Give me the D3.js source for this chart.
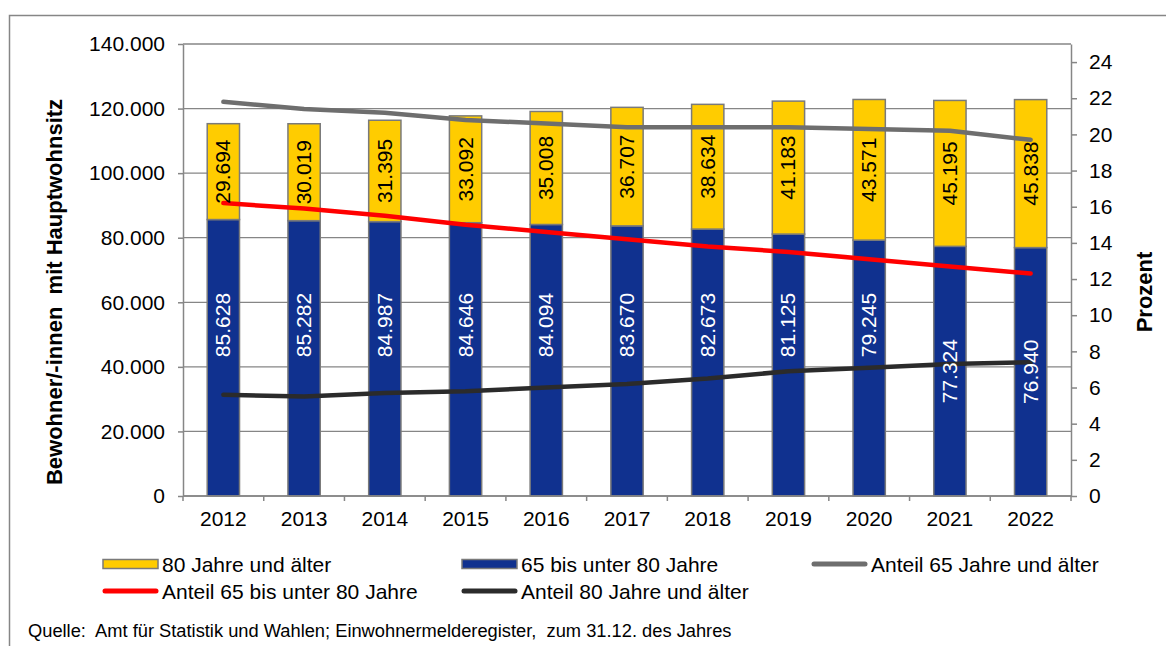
<!DOCTYPE html>
<html>
<head>
<meta charset="utf-8">
<script src="https://cdn.jsdelivr.net/npm/d3@7"></script>
<style>
  body { margin: 0; background: #fff; }
  svg { font-family: "Liberation Sans", Arial, sans-serif; }
  .grid line { stroke: #868686; stroke-width: 1.3; }
  .axis path, .axis line { stroke: #868686; stroke-width: 1.5; }
  .axis text { fill: #000; font-size: 21px; }
</style>
</head>
<body>
<div id="vis"></div>
<script>
const years = ["2012", "2013", "2014", "2015", "2016", "2017", "2018", "2019", "2020", "2021", "2022"];
const age65to79 = [85628, 85282, 84987, 84646, 84094, 83670, 82673, 81125, 79245, 77324, 76940];
const age80plus = [29694, 30019, 31395, 33092, 35008, 36707, 38634, 41183, 43571, 45195, 45838];
const share65plus = [21.8, 21.4, 21.2, 20.8, 20.6, 20.4, 20.4, 20.4, 20.3, 20.2, 19.7];
const share65to79 = [16.2, 15.9, 15.5, 15.0, 14.6, 14.2, 13.8, 13.5, 13.1, 12.7, 12.3];
const share80plus = [5.6, 5.5, 5.7, 5.8, 6.0, 6.2, 6.5, 6.9, 7.1, 7.3, 7.4];
const leftTicks = [0, 20000, 40000, 60000, 80000, 100000, 120000, 140000];
const rightTicks = [0, 2, 4, 6, 8, 10, 12, 14, 16, 18, 20, 22, 24];

const ctx = {
    w: 1166,
    h: 646,
    left: 183,
    right: 1071,
    top: 44,
    bottom: 496,
    yellow: "#FFCC00",
    navy: "#10318F",
    gray: "#6E6E6E",
    red: "#FF0000",
    dark: "#2B2B2B"
};

const fmt = d3.formatLocale({decimal: ",", thousands: ".", grouping: [3]}).format(",");

function createViz() {
    let svg = d3.select("#vis").append("svg")
        .attr("width", ctx.w)
        .attr("height", ctx.h);

    // outer frame
    svg.append("rect")
        .attr("x", 9.5).attr("y", 15.5)
        .attr("width", 1165).attr("height", 640)
        .style("fill", "none")
        .style("stroke", "#868686")
        .style("stroke-width", 1.5);

    let data = years.map((y, i) => ({
        year: y, a: age65to79[i], b: age80plus[i],
        s: share65plus[i], r: share65to79[i], k: share80plus[i]
    }));

    let xBand = d3.scaleBand().domain(years).range([ctx.left, ctx.right]);
    let xBar = d3.scaleBand().domain(years).range([ctx.left, ctx.right])
                 .paddingInner(0.6).paddingOuter(0.3);
    let yLeft = d3.scaleLinear().domain([0, 140000]).range([ctx.bottom, ctx.top]);
    let yRight = d3.scaleLinear().domain([0, 25]).range([ctx.bottom, ctx.top]);
    let cx = (d) => xBand(d.year) + xBand.bandwidth() / 2;

    // horizontal grid
    svg.append("g").attr("class", "grid")
        .selectAll("line")
        .data(leftTicks)
        .enter().append("line")
        .attr("x1", ctx.left).attr("x2", ctx.right)
        .attr("y1", (d) => yLeft(d)).attr("y2", (d) => yLeft(d));

    // stacked bars
    let bars = svg.append("g");
    bars.selectAll("rect.low")
        .data(data).enter().append("rect")
        .attr("x", (d) => xBar(d.year))
        .attr("width", xBar.bandwidth())
        .attr("y", (d) => yLeft(d.a))
        .attr("height", (d) => yLeft(0) - yLeft(d.a))
        .style("fill", ctx.navy)
        .style("stroke", "#7A7A7A").style("stroke-width", 1.5);
    bars.selectAll("rect.high")
        .data(data).enter().append("rect")
        .attr("x", (d) => xBar(d.year))
        .attr("width", xBar.bandwidth())
        .attr("y", (d) => yLeft(d.a + d.b))
        .attr("height", (d) => yLeft(d.a) - yLeft(d.a + d.b))
        .style("fill", ctx.yellow)
        .style("stroke", "#7A7A7A").style("stroke-width", 1.5);

    // axes
    svg.append("g").attr("class", "axis")
        .attr("transform", `translate(${ctx.left},0)`)
        .call(d3.axisLeft(yLeft).tickValues(leftTicks).tickFormat(fmt).tickSize(5).tickSizeOuter(0).tickPadding(13));
    svg.append("g").attr("class", "axis")
        .attr("transform", `translate(${ctx.right},0)`)
        .call(d3.axisRight(yRight).tickValues(rightTicks).tickSize(6).tickSizeOuter(0).tickPadding(12));
    let xAxis = svg.append("g").attr("class", "axis")
        .attr("transform", `translate(0,${ctx.bottom})`)
        .call(d3.axisBottom(xBand).tickSize(0).tickPadding(15));
    xAxis.select(".domain").remove();
    xAxis.append("line")
        .attr("x1", ctx.left).attr("x2", ctx.right);
    xAxis.selectAll("line.sep")
        .data(years.concat(["end"])).enter().append("line")
        .attr("x1", (d, i) => ctx.left + i * xBand.step())
        .attr("x2", (d, i) => ctx.left + i * xBand.step())
        .attr("y1", 0).attr("y2", 5);

    // share lines on right axis
    let series = [
        {values: "s", color: ctx.gray, width: 4.5},
        {values: "r", color: ctx.red, width: 4.5},
        {values: "k", color: ctx.dark, width: 4.5}
    ];
    series.forEach((sr) => {
        let line = d3.line().x(cx).y((d) => yRight(d[sr.values]));
        svg.append("path")
            .datum(data)
            .attr("d", line)
            .style("fill", "none")
            .style("stroke", sr.color)
            .style("stroke-width", sr.width)
            .style("stroke-linecap", "round")
            .style("stroke-linejoin", "round");
    });

    // value labels inside bars
    let lbl = svg.append("g").style("font-size", "21px");
    lbl.selectAll("text.high")
        .data(data).enter().append("text")
        .attr("transform", (d) => `translate(${cx(d) + 7},${yLeft(d.a + d.b / 2)}) rotate(-90)`)
        .style("text-anchor", "middle")
        .style("fill", "#000")
        .text((d) => fmt(d.b));
    lbl.selectAll("text.low")
        .data(data).enter().append("text")
        .attr("transform", (d, i) => i < 9
            ? `translate(${cx(d) + 7},${yLeft(43000)}) rotate(-90)`
            : `translate(${cx(d) + 7},${yLeft(d.a / 2)}) rotate(-90)`)
        .style("text-anchor", (d, i) => i < 9 ? "start" : "middle")
        .style("fill", "#fff")
        .text((d) => fmt(d.a));

    // axis titles
    svg.append("text")
        .attr("transform", `translate(62,292) rotate(-90)`)
        .style("text-anchor", "middle")
        .style("font-size", "22px")
        .style("font-weight", "bold")
        .style("white-space", "pre")
        .text("Bewohner/-innen  mit Hauptwohnsitz");
    svg.append("text")
        .attr("transform", `translate(1152,292) rotate(-90)`)
        .style("text-anchor", "middle")
        .style("font-size", "22px")
        .style("font-weight", "bold")
        .text("Prozent");

    addLegend(svg);

    svg.append("text")
        .attr("x", 28).attr("y", 637)
        .style("font-size", "18.3px")
        .style("white-space", "pre")
        .text("Quelle:  Amt für Statistik und Wahlen; Einwohnermelderegister,  zum 31.12. des Jahres");
}

function addLegend(svg) {
    const items = [
        {label: "80 Jahre und älter", kind: "box", color: ctx.yellow, x: 103, y: 564},
        {label: "65 bis unter 80 Jahre", kind: "box", color: ctx.navy, x: 462, y: 564},
        {label: "Anteil 65 Jahre und älter", kind: "line", color: ctx.gray, x: 812, y: 564},
        {label: "Anteil 65 bis unter 80 Jahre", kind: "line", color: ctx.red, x: 103, y: 591},
        {label: "Anteil 80 Jahre und älter", kind: "line", color: ctx.dark, x: 462, y: 591}
    ];
    let lg = svg.append("g").attr("class", "legend");
    items.forEach((it) => {
        if (it.kind === "box") {
            lg.append("rect")
              .attr("x", it.x).attr("y", it.y - 4.5)
              .attr("width", 55).attr("height", 9)
              .style("fill", it.color)
              .style("stroke", "#7A7A7A").style("stroke-width", 1.5);
        } else {
            lg.append("line")
              .attr("x1", it.x + 2).attr("x2", it.x + 53)
              .attr("y1", it.y).attr("y2", it.y)
              .style("stroke", it.color)
              .style("stroke-width", 5)
              .style("stroke-linecap", "round");
        }
        lg.append("text")
          .attr("x", it.x + 59).attr("y", it.y + 7.5)
          .style("font-size", "21px")
          .text(it.label);
    });
}

createViz();
</script>
</body>
</html>
